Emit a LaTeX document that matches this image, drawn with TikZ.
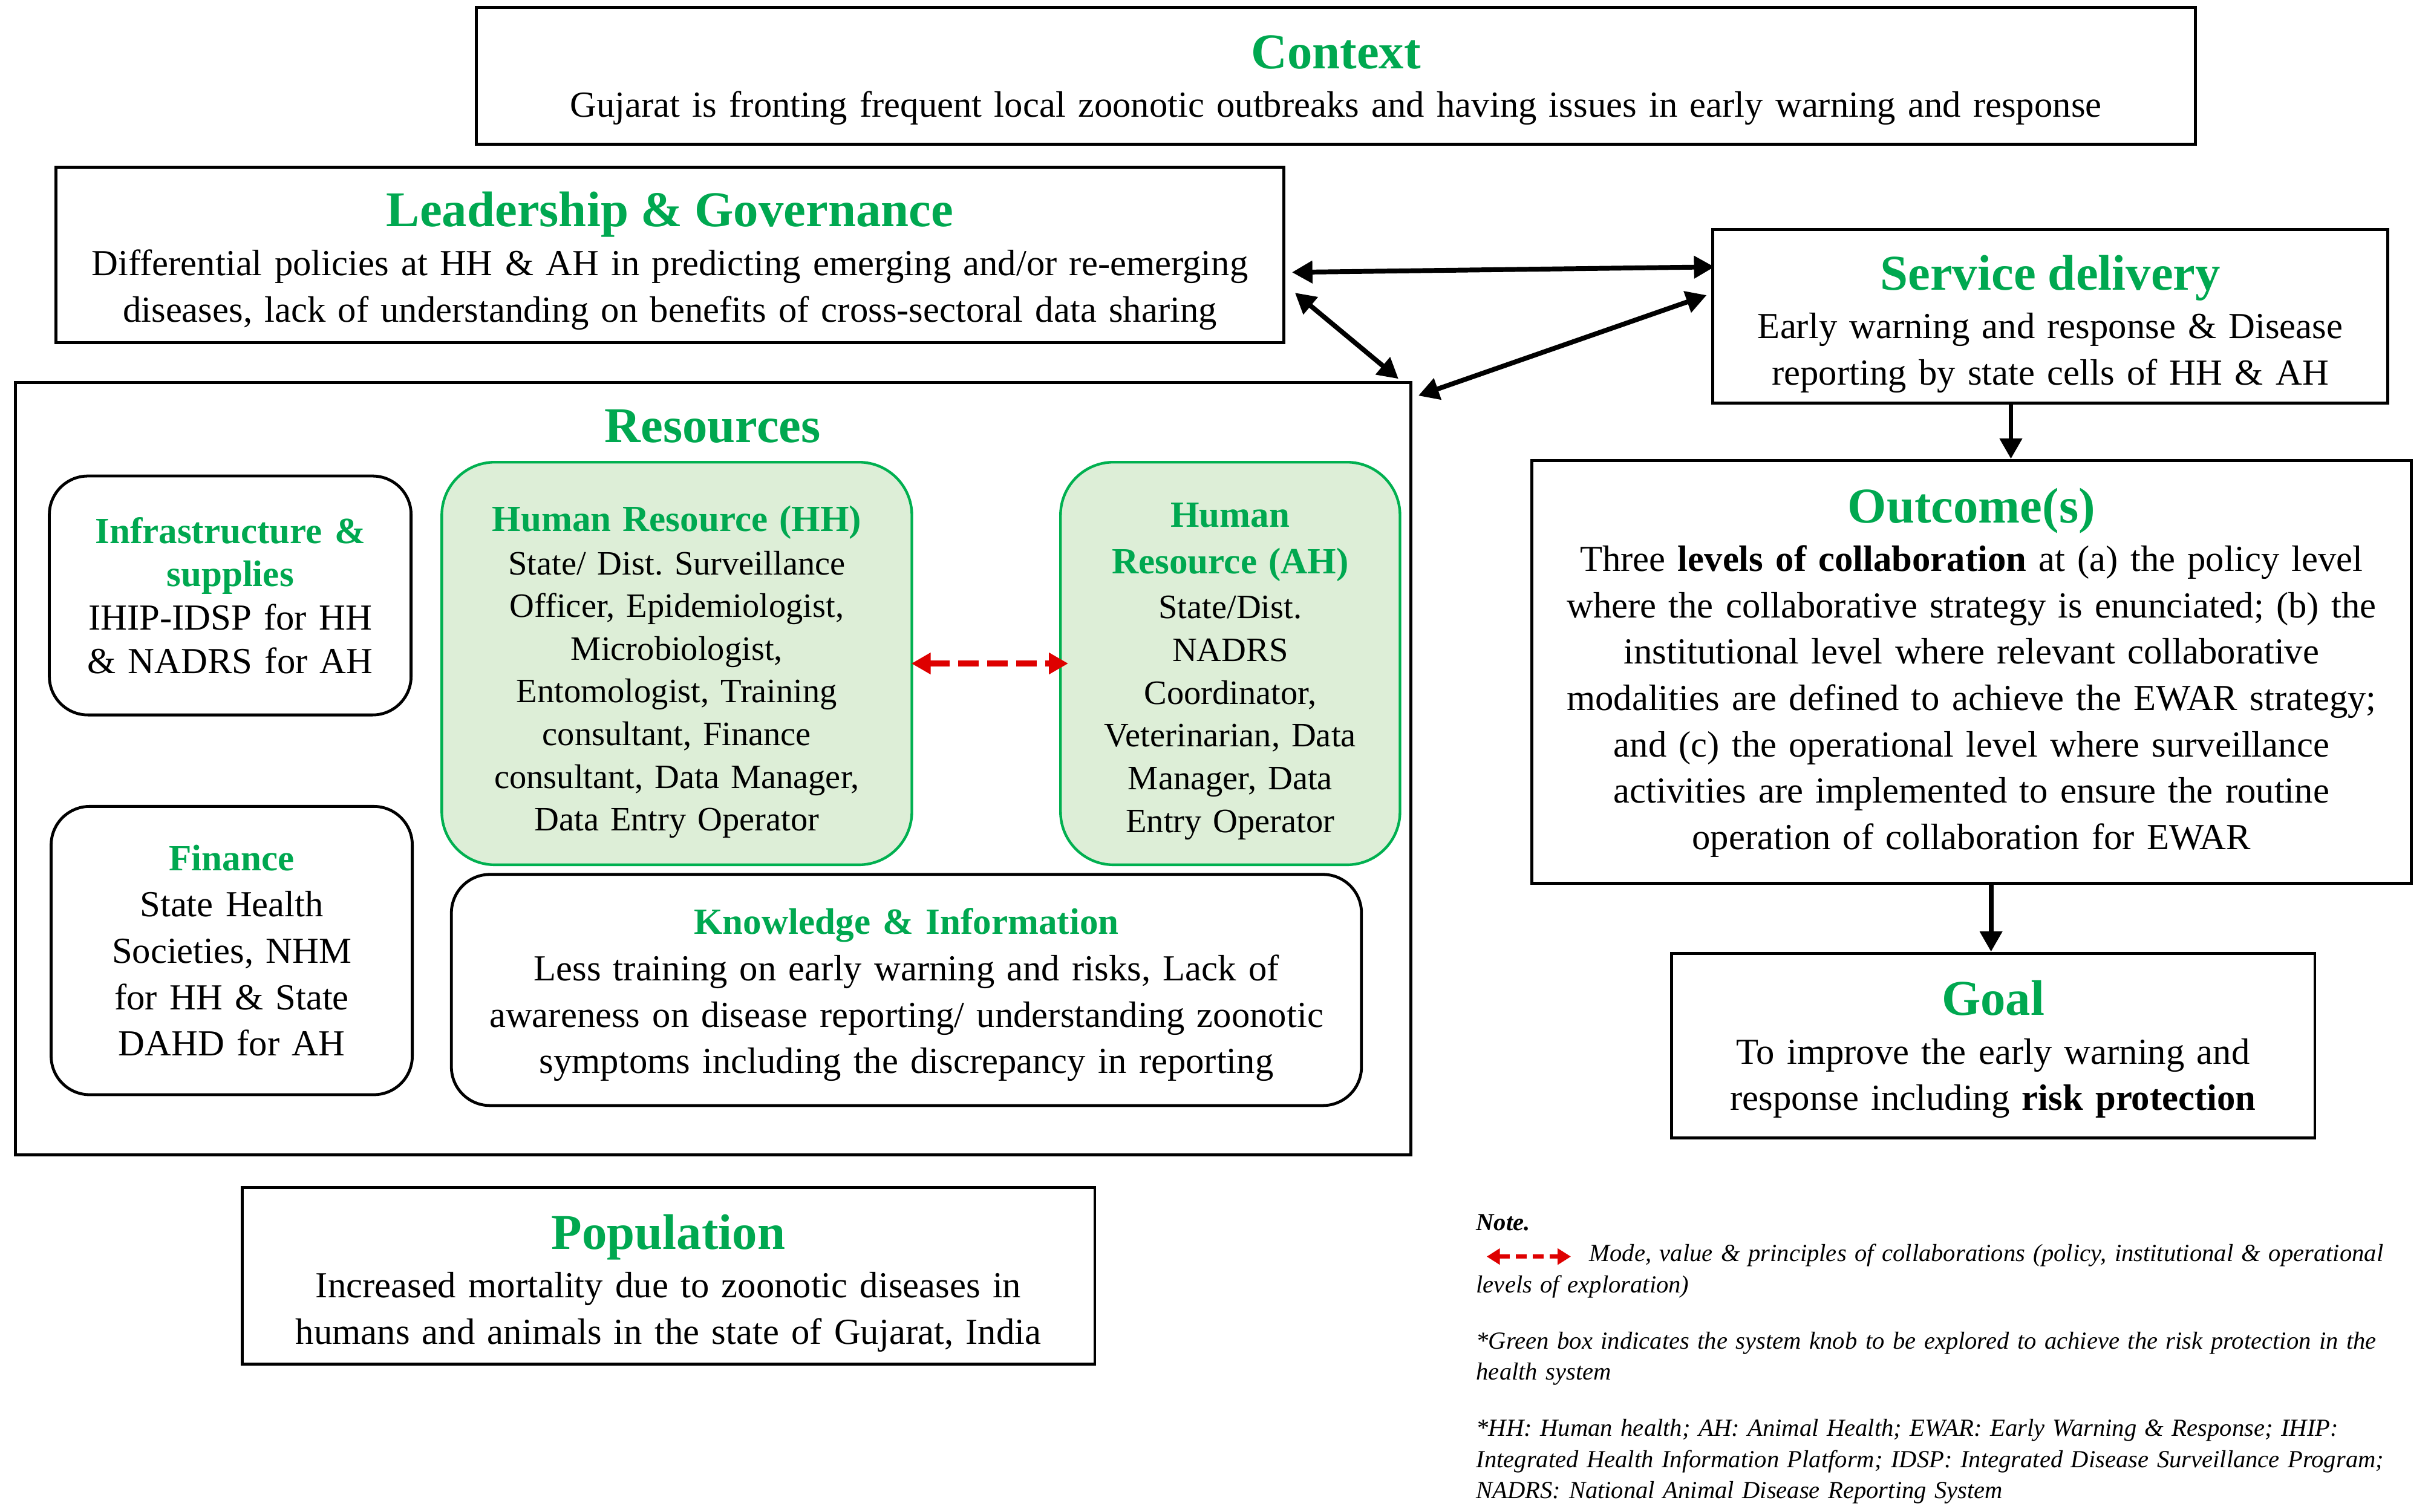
\documentclass[tikz,border=0pt]{standalone}
\usepackage{fontspec}
\setmainfont{Liberation Serif}
\usetikzlibrary{arrows.meta,calc}
\definecolor{tgreen}{RGB}{0,168,80}
\definecolor{gborder}{RGB}{0,176,80}
\definecolor{gfill}{RGB}{221,238,215}
\definecolor{rarrow}{RGB}{222,0,0}
\newcommand\ttlf{\fontsize{20.8}{24}\selectfont\bfseries\color{tgreen}}
\newcommand\sttlf{\fontsize{15.35}{18}\selectfont\bfseries\color{tgreen}}
\newcommand\bodyf{\frenchspacing\fontsize{15.25}{19.25}\selectfont}
\newcommand\hrf{\frenchspacing\fontsize{14.2}{17.75}\selectfont}
\newcommand\inff{\frenchspacing\fontsize{15.25}{18}\selectfont}
\newcommand\notef{\frenchspacing\fontsize{10.2}{12.9}\selectfont\itshape}
\begin{document}
\begin{tikzpicture}[x=0.25pt,y=-0.25pt,
  box/.style={draw=black,line width=1.25pt,inner sep=0pt},
  rbox/.style={box,rounded corners=16pt,line width=1.2pt},
  gbox/.style={draw=gborder,fill=gfill,line width=1.1pt,rounded corners=22pt,inner sep=0pt},
  txt/.style={inner sep=0pt,align=center,font=\bodyf},
  hrtxt/.style={txt,font=\hrf},
  barrow/.style={line width=2pt,{Triangle[length=8.5pt,width=9pt]}-{Triangle[length=8.5pt,width=9pt]}},
  sarrow/.style={line width=2pt,-{Triangle[length=8.5pt,width=9pt]}},
  rarr/.style={draw=rarrow,line width=2.5pt,dash pattern=on 8.5pt off 3.5pt,{Triangle[length=8pt,width=8.5pt]}-{Triangle[length=8pt,width=8.5pt]}},
  ]
\useasboundingbox (0,0) rectangle (4039,2512);

% Context
\node[box,minimum width=714.25pt,minimum height=56.75pt] (ctx) at (2219.5,126.5) {};
\node[txt,text width=700pt] (ctxt) at (2219.5,133.5)
 {{\ttlf Context}\\[1pt]
  Gujarat is fronting frequent local zoonotic outbreaks and having issues in early warning and response};

% Leadership
\node[box,minimum width=510pt,minimum height=72.75pt] (lead) at (1113,423.5) {};
\node[txt,text width=500pt] (leadt) at (1113,433.5)
 {{\ttlf Leadership \& Governance}\\[1pt]
  Differential policies at HH \& AH in predicting emerging and/or re-emerging\\
  diseases, lack of understanding on benefits of cross-sectoral data sharing};

% Service delivery
\node[box,minimum width=280.25pt,minimum height=72.25pt] (serv) at (3406.5,525.5) {};
\node[txt,text width=270pt] (servt) at (3406.5,538.5)
 {{\ttlf Service delivery}\\[1pt]
  Early warning and response \& Disease\\
  reporting by state cells of HH \& AH};

% Resources
\node[box,minimum width=579.5pt,minimum height=320.75pt] (res) at (1185,1277.5) {};
\node[inner sep=0pt,font=\ttlf] (restitle) at (1184,708) {Resources};

\node[rbox,minimum width=150.25pt,minimum height=99.25pt] (infra) at (382.5,989.5) {};
\node[txt,text width=145pt,font=\inff] (infrat) at (382.5,989.5)
 {{\sttlf Infrastructure \&}\\
  {\sttlf supplies}\\
  IHIP-IDSP for HH\\
  \& NADRS for AH};

\node[gbox,minimum width=195.25pt,minimum height=167.25pt] (hh) at (1124.5,1102.5) {};
\node[hrtxt,text width=188pt] (hht) at (1124.5,1116.5)
 {{\sttlf Human Resource (HH)}\\[0.3pt]
  State/ Dist. Surveillance\\
  Officer, Epidemiologist,\\
  Microbiologist,\\
  Entomologist, Training\\
  consultant, Finance\\
  consultant, Data Manager,\\
  Data Entry Operator};

\node[gbox,minimum width=141pt,minimum height=167.25pt] (ah) at (2044,1102.5) {};
\node[hrtxt,text width=136pt] (aht) at (2044,1115.5)
 {{\sttlf Human}\\[1.5pt]
  {\sttlf Resource (AH)}\\[1pt]
  State/Dist.\\
  NADRS\\
  Coordinator,\\
  Veterinarian, Data\\
  Manager, Data\\
  Entry Operator};

\node[rbox,minimum width=150pt,minimum height=119.75pt] (fin) at (385,1579.5) {};
\node[txt,text width=145pt] (fint) at (385,1579.5)
 {{\sttlf Finance}\\
  State Health\\
  Societies, NHM\\
  for HH \& State\\
  DAHD for AH};

\node[rbox,minimum width=378pt,minimum height=96pt] (know) at (1506,1645) {};
\node[txt,text width=370pt] (knowt) at (1506,1653)
 {{\sttlf Knowledge \& Information}\\
  Less training on early warning and risks, Lack of\\
  awareness on disease reporting/ understanding zoonotic\\
  symptoms including the discrepancy in reporting};

% Outcome
\node[box,minimum width=365.25pt,minimum height=175.75pt] (out) at (3275.5,1116.5) {};
\node[txt,text width=358pt] (outt) at (3275.5,1117.5)
 {{\ttlf Outcome(s)}\\[1pt]
  Three \textbf{levels of collaboration} at (a) the policy level\\
  where the collaborative strategy is enunciated; (b) the\\
  institutional level where relevant collaborative\\
  modalities are defined to achieve the EWAR strategy;\\
  and (c) the operational level where surveillance\\
  activities are implemented to ensure the routine\\
  operation of collaboration for EWAR};

% Goal
\node[box,minimum width=267.25pt,minimum height=76.75pt] (goal) at (3311.5,1737.5) {};
\node[txt,text width=260pt] (goalt) at (3311.5,1743.5)
 {{\ttlf Goal}\\[1pt]
  To improve the early warning and\\
  response including \textbf{risk protection}};

% Population
\node[box,minimum width=354.25pt,minimum height=73.5pt] (pop) at (1110.5,2120) {};
\node[txt,text width=346pt] (popt) at (1110.5,2132)
 {{\ttlf Population}\\[1pt]
  Increased mortality due to zoonotic diseases in\\
  humans and animals in the state of Gujarat, India};

% Notes
\node[anchor=north west,inner sep=0pt,align=left,text width=400pt,font=\notef] (note) at (2452,2017)
 {{\bfseries Note.}\\
  \hspace*{47pt}Mode, value \& principles of collaborations (policy, institutional \& operational\\
  levels of exploration)\\[10.5pt]
  *Green box indicates the system knob to be explored to achieve the risk protection in the\\
  health system\\[10.5pt]
  *HH: Human health; AH: Animal Health; EWAR: Early Warning \& Response; IHIP:\\
  Integrated Health Information Platform; IDSP: Integrated Disease Surveillance Program;\\
  NADRS: National Animal Disease Reporting System};
\coordinate (lg1) at (2470,2088);
\coordinate (lg2) at (2610,2088);
\draw[rarr,line width=1.6pt,dash pattern=on 4.5pt off 2.5pt,{Triangle[length=5.5pt,width=6.5pt]}-{Triangle[length=5.5pt,width=6.5pt]}] (lg1) -- (lg2);

% Connectors
\draw[barrow] ($(lead.east)+(11,29)$) -- ($(serv.west)+(5,-82)$);
\draw[barrow] ($(lead.south east)+(16,-85)$) -- ($(res.north east)+(-23,-4)$);
\draw[barrow] ($(serv.west)+(-8,-35)$) -- ($(res.north east)+(10,24)$);
\coordinate (xa) at (3341,0);
\coordinate (xb) at (3308,0);
\draw[sarrow] (serv.south -| xa) -- (out.north -| xa);
\draw[sarrow] (out.south -| xb) -- (goal.north -| xb);
\draw[rarr] ($(hh.east)+(-3,0)$) -- ($(ah.west)+(15,0)$);
\end{tikzpicture}
\end{document}
